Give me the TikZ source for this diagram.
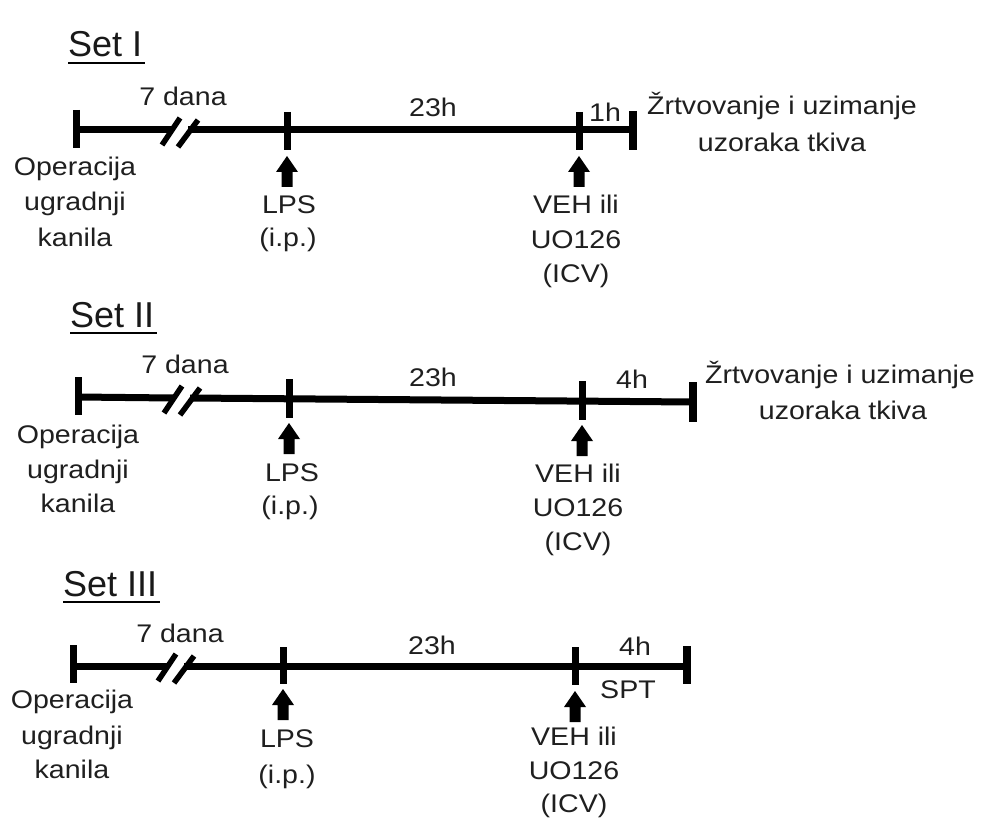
\documentclass[tikz,border=0pt]{standalone}
\usepackage{fontspec}
\newfontfamily\bodyf{Liberation Sans}[FakeStretch=1.12]
\newfontfamily\titlef{Liberation Sans}
\begin{document}
\begin{tikzpicture}[x=1pt,y=-1pt,
  tline/.style={line width=7pt},
  tick/.style={line width=7pt},
  endtick/.style={line width=8pt},
  slash/.style={line width=5.5pt},
  uline/.style={line width=2.6pt},
  txt/.style={anchor=base,inner sep=0pt,font=\bodyf\fontsize{25.5}{28}\selectfont,text=black!88},
  ttl/.style={anchor=base west,inner sep=0pt,font=\titlef\fontsize{36}{40}\selectfont,text=black!90},
  brk/.pic={\draw[slash] (-18,15) -- (0,-12); \draw[slash] (-2,17) -- (18,-10);},
  uparr/.pic={\fill (0,0) -- (11,16) -- (5.5,16) -- (5.5,31) -- (-5.5,31) -- (-5.5,16) -- (-11,16) -- cycle;}]
\useasboundingbox[fill=white] (0,0) rectangle (982,821);

% ================= Set I =================
\node[ttl] (t1) at (68,57) {Set I};
\draw[uline] (68,63) -- (145,63);
\coordinate (a0) at (76,130);
\coordinate (a1) at (171,130);
\coordinate (a2) at (188,130);
\coordinate (a3) at (287,130);
\coordinate (a4) at (579,130);
\coordinate (a5) at (633,130);
\draw[tline] (a0) -- (a1);
\draw[tline] (a2) -- (a5);
\pic (b1) at (180,130) {brk};
\draw[tick] (76,110) -- (76,148);
\draw[tick] (287,112) -- (287,150);
\draw[tick] (579,112) -- (579,150);
\draw[endtick] (633,111) -- (633,150);
\pic (p1) at (287,156) {uparr};
\pic (v1) at (579,156) {uparr};
\node[txt] (d1) at (183,106) {7 dana};
\node[txt] (h1) at (433,117) {23h};
\node[txt] (e1) at (605,122) {1h};
\node[txt] (z1a) at (782,115) {Žrtvovanje i uzimanje};
\node[txt] (z1b) at (782,152) {uzoraka tkiva};
\node[txt] (o1a) at (75,176) {Operacija};
\node[txt] (o1b) at (75,211) {ugradnji};
\node[txt] (o1c) at (75,246) {kanila};
\node[txt] (l1a) at (289,213) {LPS};
\node[txt] (l1b) at (288,246) {(i.p.)};
\node[txt] (u1a) at (576,213) {VEH ili};
\node[txt] (u1b) at (576,248) {UO126};
\node[txt] (u1c) at (576,282) {(ICV)};

% ================= Set II =================
\node[ttl] (t2) at (70,327) {Set II};
\draw[uline] (70,333) -- (157,333);
\coordinate (c0) at (78,397);
\coordinate (c1) at (173,398);
\coordinate (c2) at (190,398);
\coordinate (c3) at (289,399);
\coordinate (c4) at (582,401);
\coordinate (c5) at (693,402);
\draw[tline] (c0) -- (c1);
\draw[tline] (c2) -- (c5);
\pic (b2) at (182,398) {brk};
\draw[tick] (78,377) -- (78,415);
\draw[tick] (289,379) -- (289,418);
\draw[tick] (582,381) -- (582,420);
\draw[endtick] (693,382) -- (693,422);
\pic (p2) at (289,423) {uparr};
\pic (v2) at (582,425) {uparr};
\node[txt] (d2) at (185,373) {7 dana};
\node[txt] (h2) at (433,386) {23h};
\node[txt] (e2) at (632,388) {4h};
\node[txt] (z2a) at (840,383) {Žrtvovanje i uzimanje};
\node[txt] (z2b) at (843,419) {uzoraka tkiva};
\node[txt] (o2a) at (78,443) {Operacija};
\node[txt] (o2b) at (78,478) {ugradnji};
\node[txt] (o2c) at (78,512) {kanila};
\node[txt] (l2a) at (292,481) {LPS};
\node[txt] (l2b) at (290,514) {(i.p.)};
\node[txt] (u2a) at (578,482) {VEH ili};
\node[txt] (u2b) at (578,516) {UO126};
\node[txt] (u2c) at (578,550) {(ICV)};

% ================= Set III =================
\node[ttl] (t3) at (63,596) {Set III};
\draw[uline] (63,602) -- (160,602);
\coordinate (f0) at (73,666);
\coordinate (f1) at (167,666);
\coordinate (f2) at (184,666);
\coordinate (f3) at (283,666);
\coordinate (f4) at (575,666);
\coordinate (f5) at (687,666);
\draw[tline] (f0) -- (f1);
\draw[tline] (f2) -- (f5);
\pic (b3) at (176,666) {brk};
\draw[tick] (73,645) -- (73,683);
\draw[tick] (283,647) -- (283,684);
\draw[tick] (575,647) -- (575,685);
\draw[endtick] (687,646) -- (687,684);
\pic (p3) at (283,689) {uparr};
\pic (v3) at (575,691) {uparr};
\node[txt] (d3) at (180,642) {7 dana};
\node[txt] (h3) at (432,654) {23h};
\node[txt] (e3) at (635,655) {4h};
\node[txt] (s3) at (628,698) {SPT};
\node[txt] (o3a) at (72,708) {Operacija};
\node[txt] (o3b) at (72,744) {ugradnji};
\node[txt] (o3c) at (72,778) {kanila};
\node[txt] (l3a) at (287,747) {LPS};
\node[txt] (l3b) at (287,783) {(i.p.)};
\node[txt] (u3a) at (574,745) {VEH ili};
\node[txt] (u3b) at (574,779) {UO126};
\node[txt] (u3c) at (574,812) {(ICV)};
\end{tikzpicture}
\end{document}
